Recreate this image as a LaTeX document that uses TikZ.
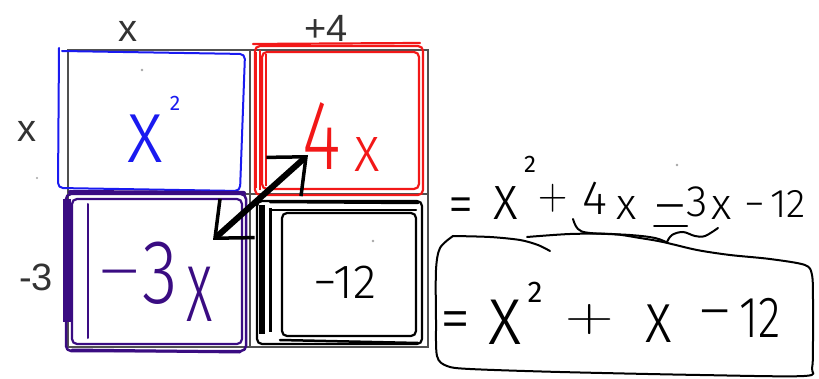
\documentclass[tikz,border=0pt]{standalone}
\usepackage{fontspec}
\newfontfamily\labfont{Liberation Sans}
\newfontfamily\hand{Fira Sans Light}
\newfontfamily\handr{Fira Sans}
\usetikzlibrary{arrows.meta}
\definecolor{hblue}{HTML}{1A1AF0}
\definecolor{hred}{HTML}{F21818}
\definecolor{hpurple}{HTML}{3A0C82}
\definecolor{gridgray}{HTML}{505050}
\definecolor{labgray}{HTML}{333333}
\newcommand{\hw}[3]{\scalebox{#2}[1]{\hand\fontsize{#1}{#1}\selectfont #3}}
\newcommand{\hr}[2]{{\handr\fontsize{#1}{#1}\selectfont #2}}
\newcommand{\hp}[3]{\scalebox{#2}[1]{\rmfamily\fontsize{#1}{#1}\selectfont #3}}
\newcommand{\lab}[1]{{\labfont\fontsize{38}{38}\selectfont #1}}
\begin{document}
\begin{tikzpicture}[x=1pt,y=-1pt,
  every node/.style={inner sep=0pt,outer sep=0pt},
  sym/.style={anchor=base},
  gridline/.style={draw=gridgray,line width=2pt},
  stroke/.style={line width=2.2pt,line cap=round,line join=round,rounded corners=5pt},
  label/.style={text=labgray},
  speck/.style={fill=gray!70}]
\useasboundingbox (0,0) rectangle (819,379);
\fill[white] (0,0) rectangle (819,379);

% grey grid
\draw[gridline] (68,50) rectangle (428,347);
\draw[gridline] (250,50) -- (250,347);
\draw[gridline] (68,194) -- (428,194);

% labels
\node[label] (topx) at (128,31) {\lab{x}};
\node[label] (topfour) at (326,28) {\lab{+4}};
\node[label] (leftx) at (27,131) {\lab{x}};
\node[label] (leftthree) at (36,277) {\lab{-3}};

% blue cell
\draw[stroke,hblue,line width=2pt] (59,48) -- (58,188) -- (240,191) -- (245,54) -- (62,51);
\node[text=hblue] (bx) at (145,139) {\hw{91}{0.85}{x}};
\node[text=hblue] (btwo) at (175,103) {\hr{21}{2}};

% red cell
\draw[stroke,hred] (255,46) rectangle (423,195);
\draw[stroke,hred] (262,52) rectangle (419,189);
\draw[stroke,hred] (253,44) -- (420,43);
\draw[hred,line width=2pt] (256,52) -- (256,188);
\draw[hred,line width=2pt] (260,50) -- (260,190);
\draw[hred,line width=2pt] (266,54) -- (266,186);
\node[text=hred] (rfour) at (322,136) {\hw{99}{0.75}{4}};
\node[text=hred] (rx) at (367,155) {\hw{65}{0.85}{x}};

% purple cell
\draw[stroke,hpurple,line width=2.5pt] (66,194) rectangle (246,351);
\draw[stroke,hpurple] (72,199) rectangle (242,344);
\draw[hpurple,line width=2pt,line cap=round] (88,204) -- (88,338);
\draw[hpurple,line width=4pt,line cap=round] (70,192) -- (244,193);
\draw[hpurple,line width=3pt,line cap=round] (72,350) -- (240,352);
\draw[hpurple,line width=8pt] (67,199) -- (67,322);
\node[sym,text=hpurple] (pminus) at (120,291.6) {\hw{60}{1.57}{−}};
\node[text=hpurple] (pthree) at (160,273) {\hw{91}{0.8}{3}};
\node[text=hpurple] (px) at (200,294) {\hw{104}{0.55}{x}};

% black cell
\draw[stroke,black] (257,201) rectangle (422,344);
\draw[stroke,black] (282,213) rectangle (416,336);
\draw[black,line width=2.5pt,line cap=round] (270,202) -- (418,203);
\draw[black,line width=2.5pt,line cap=round] (270,210) -- (416,210);
\draw[black,line width=2.5pt,line cap=round] (280,340) -- (418,343);
\draw[black,line width=6pt] (262,205) -- (262,334);
\draw[black,line width=3pt] (270,208) -- (270,332);
\node[text=black] (bneg) at (345,282) {\hw{48}{1}{−12}};

% double arrow between 4x and -3x
\coordinate (arrA) at (213,240);
\coordinate (arrB) at (308,155);
\draw[line width=6pt,
  {Straight Barb[length=30pt,width=52pt,line width=3.5pt]}-{Straight Barb[length=30pt,width=52pt,line width=3.5pt]}]
  (arrA) -- (arrB);

% specks
\fill[speck] (142,70) circle (1.3);
\fill[speck] (37,178) circle (1.2);
\fill[speck] (373,241) circle (1.3);
\fill[speck] (677,165) circle (1.3);

% first equation line
\node[sym] (eq1) at (461,224.6) {\hw{60}{0.85}{=}};
\node (e1x) at (506,203) {\hw{63}{0.85}{x}};
\node (e1two) at (530,164) {\hr{24}{2}};
\node[sym] (e1plus) at (553,209.5) {\hp{45}{0.9}{+}};
\node (e1four) at (595,198) {\hw{48}{1}{4}};
\node (e1x2) at (627,208) {\hw{44}{1}{x}};
\node[sym] (e1minus) at (670,222.5) {\hw{50}{1.45}{−}};
\node (e1three) at (697,202) {\hw{44}{1}{3}};
\node (e1x3) at (722,208) {\hw{44}{1}{x}};
\node[sym] (e1minus2) at (755,217.4) {\hw{40}{1.05}{−}};
\node (e1twelve) at (788,204) {\hw{40}{1}{12}};
\draw[line width=2pt,line cap=round] (654,226) -- (687,226);

% brace under 4x and -3x
\draw[line width=2pt,line cap=round] plot[smooth,tension=0.6] coordinates
  {(573,219) (578,229) (590,233) (630,235) (655,238) (668,243)};
\draw[line width=2pt,line cap=round] plot[smooth,tension=0.6] coordinates
  {(667,242) (672,235) (683,232) (695,236) (705,236) (718,228)};

% answer box
\draw[line width=2pt,line cap=round] plot[smooth,tension=0.5] coordinates
  {(453,236) (490,237) (520,240) (538,245) (550,251)};
\draw[line width=2pt,line cap=round,line join=round] plot[smooth,tension=0.5] coordinates
  {(527,237) (570,234) (612,234) (640,238) (663,242) (697,250) (730,255) (770,259) (805,265) (812,275)
   (813,300) (813,340) (812,368) (804,376) (700,375) (560,372) (470,369) (447,366) (437,356)
   (436,320) (436,270) (440,248) (453,236)};

% answer line
\node[sym] (eq2) at (456,340) {\hw{65}{0.94}{=}};
\node (e2x) at (505,322) {\hw{85}{0.85}{x}};
\node (e2two) at (535,292) {\hr{30}{2}};
\node[sym] (e2plus) at (590,331) {\hp{48}{1.4}{+}};
\node (e2x2) at (659,324) {\hw{72}{0.8}{x}};
\node[sym] (e2minus) at (715,329) {\hw{55}{1.3}{−}};
\node (e2twelve) at (760,318) {\hw{58}{0.8}{12}};
\end{tikzpicture}
\end{document}
